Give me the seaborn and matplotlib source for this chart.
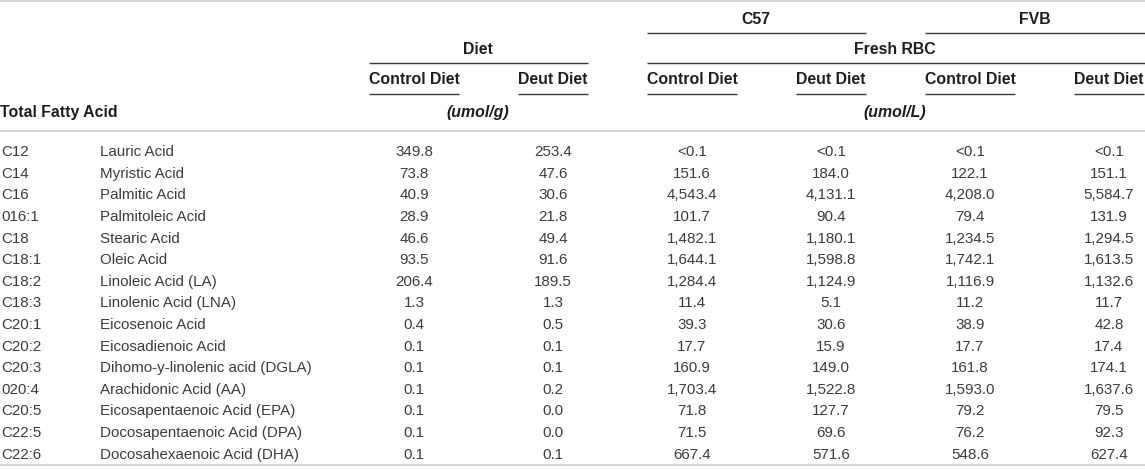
import matplotlib
matplotlib.use("Agg")
import matplotlib.pyplot as plt
import seaborn as sns

# Table data
codes = ["C12", "C14", "C16", "016:1", "C18", "C18:1", "C18:2", "C18:3",
         "C20:1", "C20:2", "C20:3", "020:4", "C20:5", "C22:5", "C22:6"]
names = ["Lauric Acid", "Myristic Acid", "Palmitic Acid", "Palmitoleic Acid",
         "Stearic Acid", "Oleic Acid", "Linoleic Acid (LA)", "Linolenic Acid (LNA)",
         "Eicosenoic Acid", "Eicosadienoic Acid", "Dihomo-y-linolenic acid (DGLA)",
         "Arachidonic Acid (AA)", "Eicosapentaenoic Acid (EPA)",
         "Docosapentaenoic Acid (DPA)", "Docosahexaenoic Acid (DHA)"]
# None = below detection (<0.1)
diet_control = [349.8, 73.8, 40.9, 28.9, 46.6, 93.5, 206.4, 1.3, 0.4, 0.1, 0.1, 0.1, 0.1, 0.1, 0.1]
diet_deut = [253.4, 47.6, 30.6, 21.8, 49.4, 91.6, 189.5, 1.3, 0.5, 0.1, 0.1, 0.2, 0.0, 0.0, 0.1]
c57_control = [None, 151.6, 4543.4, 101.7, 1482.1, 1644.1, 1284.4, 11.4, 39.3, 17.7, 160.9, 1703.4, 71.8, 71.5, 667.4]
c57_deut = [None, 184.0, 4131.1, 90.4, 1180.1, 1598.8, 1124.9, 5.1, 30.6, 15.9, 149.0, 1522.8, 127.7, 69.6, 571.6]
fvb_control = [None, 122.1, 4208.0, 79.4, 1234.5, 1742.1, 1116.9, 11.2, 38.9, 17.7, 161.8, 1593.0, 79.2, 76.2, 548.6]
fvb_deut = [None, 151.1, 5584.7, 131.9, 1294.5, 1613.5, 1132.6, 11.7, 42.8, 17.4, 174.1, 1637.6, 79.5, 92.3, 627.4]

sub_headers = ["Control Diet", "Deut Diet"] * 3
strains = ["C57", "FVB"]
units = ["(umol/g)", "(umol/L)"]

sns.set_theme(style="white")
plt.rcParams["font.family"] = ["Liberation Sans", "DejaVu Sans"]

W, H = 1145, 469
fig = plt.figure(figsize=(W / 100, H / 100), dpi=100)
ax = fig.add_axes([0, 0, 1, 1])
ax.set_xlim(0, W)
ax.set_ylim(H, 0)
ax.axis("off")

body_c = "#3c3c3c"
head_c = "#1e1e1e"
rule_c = "#d6d6d6"
line_c = "#3a3a3a"
body_fs = 10.9
head_fs = 11.4

columns = [diet_control, diet_deut, c57_control, c57_deut, fvb_control, fvb_deut]
col_x = [414 + 139 * i for i in range(len(columns))]
# baseline of each body row
row_y = [156.2 + 21.6 * i for i in range(len(codes))]


def fmt(v):
    return "<0.1" if v is None else f"{v:,.1f}"


# horizontal rules
ax.hlines([0.8, 131, 465], 0, W, color=rule_c, lw=1.4)

# column sub headers
subs = []
for x, lab in zip(col_x, sub_headers):
    subs.append(ax.text(x, 80, lab, ha="center", va="center", fontsize=head_fs,
                        fontweight="bold", color=head_c))
fig.canvas.draw()
inv = ax.transData.inverted()


def span(t):
    bb = t.get_window_extent()
    (x0, _), (x1, _) = inv.transform([[bb.x0, bb.y0], [bb.x1, bb.y1]])
    return x0, x1


spans = [span(t) for t in subs]
for x0, x1 in spans:
    ax.hlines(94, x0, x1, color=line_c, lw=1.0)

# Diet / Fresh RBC group
ax.text((spans[0][0] + spans[1][1]) / 2, 50, "Diet", ha="center", va="center",
        fontsize=head_fs, fontweight="bold", color=head_c)
ax.hlines(63, spans[0][0], spans[1][1], color=line_c, lw=1.0)
ax.text((spans[2][0] + spans[5][1]) / 2, 50, "Fresh RBC", ha="center", va="center",
        fontsize=head_fs, fontweight="bold", color=head_c)
ax.hlines(63, spans[2][0], W, color=line_c, lw=1.0)

# strain headers
for k, s in enumerate(strains):
    a, b = spans[2 + 2 * k][0], spans[3 + 2 * k][1]
    if k == len(strains) - 1:
        b = W
    ax.text((a + b) / 2, 19, s, ha="center", va="center", fontsize=head_fs,
            fontweight="bold", color=head_c)
    ax.hlines(33, a, b, color=line_c, lw=1.0)

# units row
ax.text(0, 112, "Total Fatty Acid", ha="left", va="center", fontsize=head_fs,
        fontweight="bold", color=head_c)
ax.text((spans[0][0] + spans[1][1]) / 2, 112, units[0], ha="center", va="center",
        fontsize=head_fs, fontweight="bold", fontstyle="italic", color=head_c)
ax.text((spans[2][0] + spans[5][1]) / 2, 112, units[1], ha="center", va="center",
        fontsize=head_fs, fontweight="bold", fontstyle="italic", color=head_c)

# body
for i, y in enumerate(row_y):
    ax.text(1, y, codes[i], ha="left", va="baseline", fontsize=body_fs, color=body_c)
    ax.text(100, y, names[i], ha="left", va="baseline", fontsize=body_fs, color=body_c)
    for x, col in zip(col_x, columns):
        ax.text(x, y, fmt(col[i]), ha="center", va="baseline", fontsize=body_fs, color=body_c)

fig.savefig("out.png", dpi=100, facecolor="white")
